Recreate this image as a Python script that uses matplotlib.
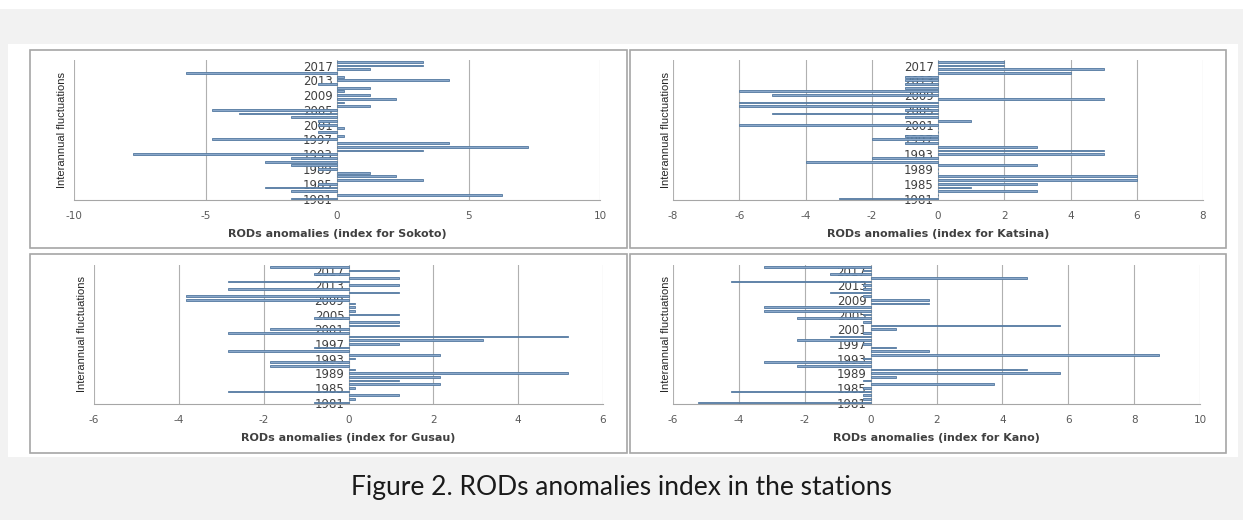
import matplotlib
matplotlib.use('Agg')
import matplotlib.pyplot as plt
from matplotlib.patches import Rectangle

W, H = 1243, 520

years = list(range(1981, 2019))
label_years = years[::4]

# anomalies, 1981 -> 2018
sokoto = [-1.74, 6.26, -1.74, -2.74, -0.74, 3.26, 2.26, 1.26, -0.74, -1.74,
          -2.74, -1.74, -7.74, 3.26, 7.26, 4.26, -4.74, 0.26, -0.74, 0.26,
          -0.74, -0.74, -1.74, -3.74, -4.74, 1.26, 0.26, 2.26, 1.26, 0.26,
          1.26, -0.74, 4.26, 0.26, -5.74, 1.26, 3.26, 3.26]
katsina = [-3, 0, 3, 1, 3, 6, 6, 0, 0, 3,
           -4, -2, 5, 5, 3, -1, -2, -1, 0, 0,
           -6, 1, -1, -5, -1, -6, -6, 5, -5, -6,
           -1, -1, -1, -1, 4, 5, 2, 2]
gusau = [-0.82, 0.16, 1.18, -2.84, 0.16, 2.16, 1.18, 2.16, 5.18, 0.16,
         -1.84, -1.84, 0.16, 2.16, -2.84, -0.82, 1.18, 3.18, 5.18, -2.84,
         -1.84, 1.18, 1.18, -0.82, 1.18, 0.16, 0.16, 0.16, -3.84, -3.84,
         1.18, -2.84, 1.18, -2.84, 1.18, -0.82, 1.18, -1.84]
kano = [-5.24, -0.24, -0.24, -4.24, -0.24, 3.76, -0.24, 0.76, 5.76, 4.76,
        -2.24, -3.24, -0.24, 8.76, 1.76, 0.76, -0.24, -2.24, -1.24, -0.24,
        0.76, 5.76, -0.24, -2.24, -0.24, -3.24, -3.24, 1.76, 1.76, -0.24,
        -1.24, -0.24, -0.24, -4.24, 4.76, -1.24, -0.24, -3.24]

stations = ['Sokoto', 'Katsina', 'Gusau', 'Kano']
series = [sokoto, katsina, gusau, kano]
xlims = [(-10, 10), (-8, 8), (-6, 6), (-6, 10)]
xsteps = [5, 2, 2, 2]

# axes boxes in pixels: left, right, top, bottom
boxes = [(74, 600, 60, 200), (673, 1203, 60, 200),
         (94, 603, 265, 404), (673, 1200, 265, 404)]
ylabel_x = [62, 666, 82, 666]
panels = [(30, 627, 50, 248), (630, 1226, 50, 248),
          (30, 627, 254, 453), (630, 1226, 254, 453)]


def fx(px):
    return px / W


def fy(py):
    return 1 - py / H


fig = plt.figure(figsize=(W / 100, H / 100), dpi=100, facecolor='#f2f2f2')

# white strip on top and white area behind the panels
fig.patches.append(Rectangle((0, fy(9)), 1, 9 / H, transform=fig.transFigure,
                             facecolor='white', edgecolor='none', zorder=-3))
fig.patches.append(Rectangle((fx(8), fy(457)), fx(1230), (457 - 44) / H,
                             transform=fig.transFigure, facecolor='white',
                             edgecolor='none', zorder=-3))
for l, r, t, b in panels:
    fig.patches.append(Rectangle((fx(l), fy(b)), fx(r - l), (b - t) / H,
                                 transform=fig.transFigure, facecolor='white',
                                 edgecolor='#a6a6a6', linewidth=1.2, zorder=-2))

for i in range(4):
    l, r, t, b = boxes[i]
    ax = fig.add_axes([fx(l), fy(b), fx(r - l), (b - t) / H])
    ax.set_zorder(2)
    ax.set_facecolor('none')
    ax.barh(years, series[i], height=0.5, color='#8aa7c9', edgecolor='#52789f',
            linewidth=0.6, zorder=3)
    lo, hi = xlims[i]
    ax.set_xlim(lo, hi)
    ax.set_ylim(1980.6, 2018.5)
    ticks = list(range(lo, hi + 1, xsteps[i]))
    ax.set_xticks(ticks)
    ax.set_xticklabels([str(v) for v in ticks], fontsize=7.5, color='#595959')
    ax.grid(axis='x', color='#b0b0b0', linewidth=0.8, zorder=0)
    ax.set_axisbelow(True)
    ax.spines['left'].set_position(('data', 0))
    ax.spines['left'].set_visible(False)
    ax.spines['right'].set_visible(False)
    ax.spines['top'].set_visible(False)
    ax.spines['bottom'].set_color('#a6a6a6')
    ax.set_yticks(label_years)
    ax.set_yticklabels([str(y) for y in label_years], fontsize=8.5,
                       color='#404040')
    ax.tick_params(axis='y', length=0, pad=3)
    ax.tick_params(axis='x', length=0, pad=8)
    ax.set_xlabel('RODs anomalies (index for %s)' % stations[i], fontsize=8,
                  fontweight='bold', color='#404040', labelpad=6)
    fig.text(fx(ylabel_x[i]), fy((t + b) / 2), 'Interannual fluctuations',
             rotation=90, ha='center', va='center', fontsize=8,
             family=['Liberation Sans Narrow', 'Liberation Sans'],
             color='#262626')

fig.text(0.5, fy(487), 'Figure 2. RODs anomalies index in the stations',
         ha='center', va='center', fontsize=19, family='Lato', color='#1a1a1a')

fig.savefig('out.png', dpi=100, facecolor=fig.get_facecolor())
